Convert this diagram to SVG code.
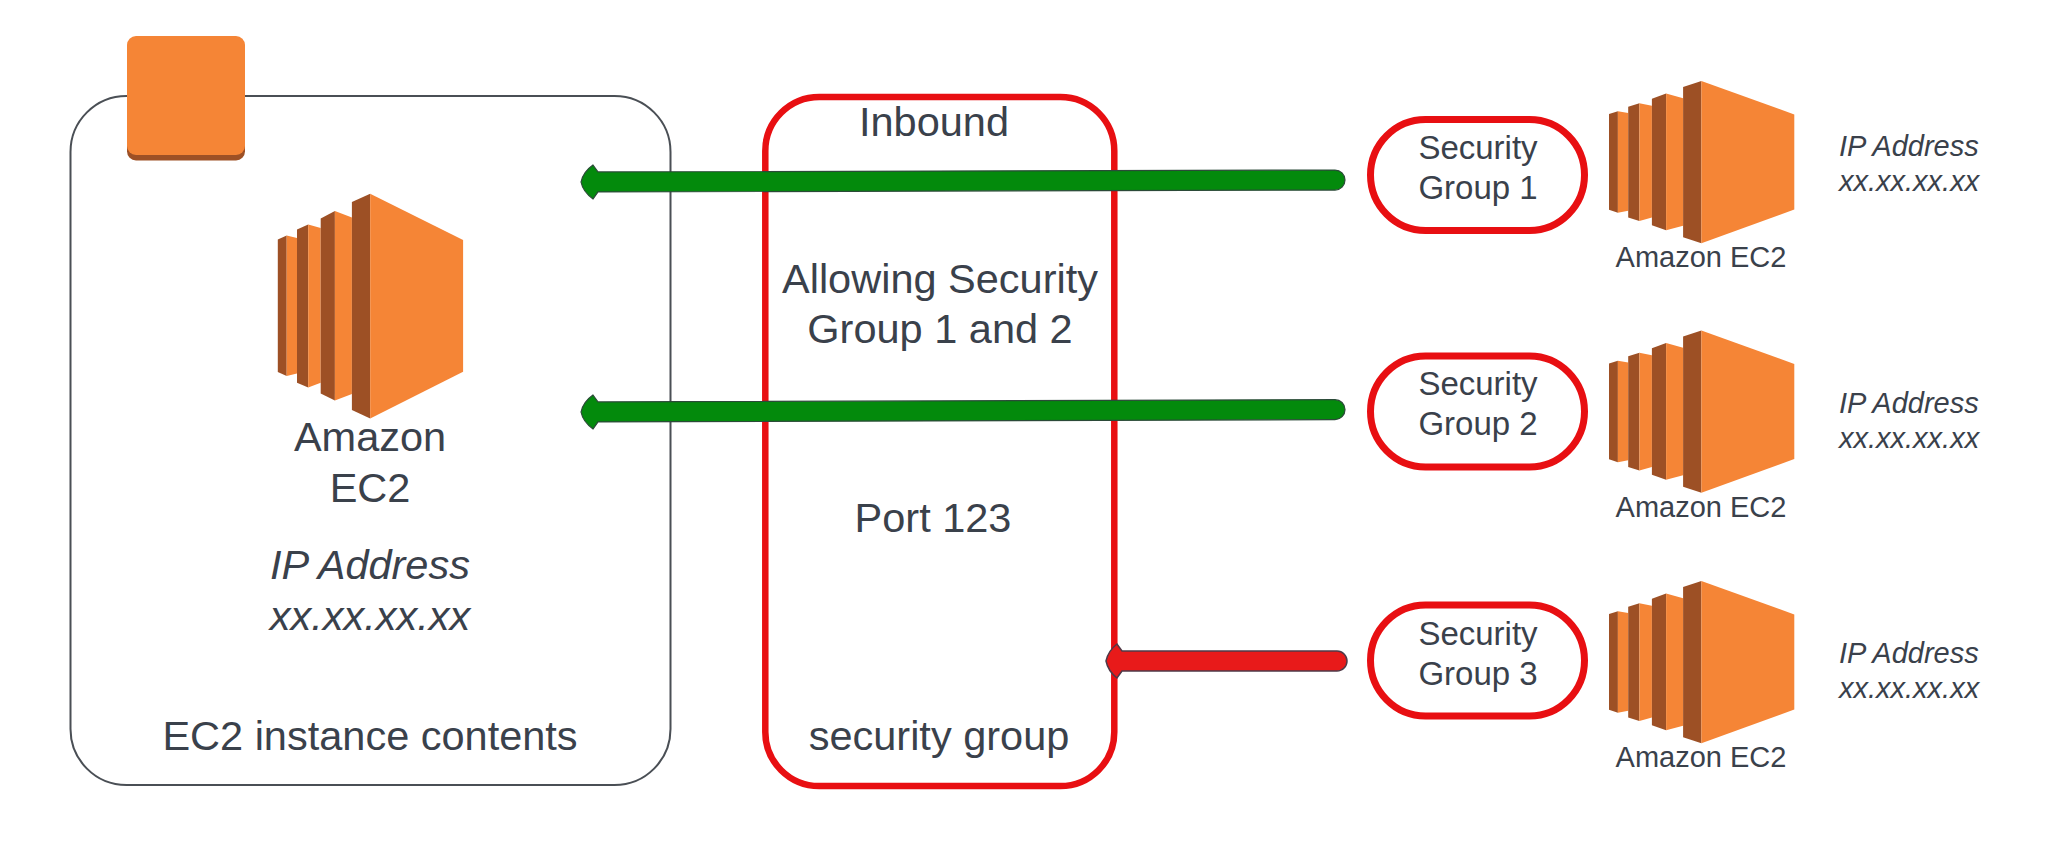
<svg xmlns="http://www.w3.org/2000/svg" xmlns:xlink="http://www.w3.org/1999/xlink" width="2048" height="861" viewBox="0 0 2048 861">
<style>
text{font-family:"Liberation Sans",Arial,sans-serif;fill:#3a414b;text-anchor:middle}
.l{font-size:41.5px}.s{font-size:33px}.c{font-size:29px}.i{font-style:italic}
.st{text-anchor:start}
.o{fill:#f58536}.d{fill:#9d5025}
.red{fill:#fff;stroke:#e80f12;stroke-width:7}
.green{fill:#038a0c;stroke:#2b4a38;stroke-width:1.2}
.stop{fill:#e81a1a;stroke:#4f3a48;stroke-width:1.5}
</style>
<defs>
<g id="ec2">
<polygon class="d" points="0,45.7 8.9,41.7 8.9,182.3 0,178.3"/>
<polygon class="o" points="8.9,41.7 19.2,44.3 19.2,179.7 8.9,182.3"/>
<polygon class="d" points="19.2,35.7 30.4,30.7 30.4,193.7 19.2,189"/>
<polygon class="o" points="30.4,30.7 42.9,34.3 42.9,189 30.4,193.7"/>
<polygon class="d" points="42.9,24.7 57.1,17.3 57.1,206.7 42.9,199.7"/>
<polygon class="o" points="57.1,17.3 74.1,23.7 74.1,200.3 57.1,206.7"/>
<polygon class="d" points="74.1,8.3 92.4,0 92.4,224.7 74.1,216.3"/>
<polygon class="o" points="92.4,0 185.3,46.3 185.3,178 92.4,224.7"/>
</g>
</defs>
<g id="ec2-instance">
<rect x="70.5" y="96" width="600" height="689" rx="56" ry="56" fill="#fff" stroke="#4a4f55" stroke-width="2"/>
<g id="instance-badge">
<rect class="d" x="127" y="40" width="118" height="120.5" rx="9"/>
<rect class="o" x="127" y="36" width="118" height="119" rx="9"/>
</g>
<use href="#ec2" xlink:href="#ec2" transform="translate(277.800 193.700)"/>
<text class="l" x="370" y="451">Amazon</text>
<text class="l" x="370" y="502">EC2</text>
<text class="l i" x="370" y="579">IP Address</text>
<text class="l i" x="370" y="630">xx.xx.xx.xx</text>
<text class="l" x="370" y="750">EC2 instance contents</text>
</g>
<g id="security-group">
<rect x="765.300" y="97" width="349" height="689" rx="54" ry="54" fill="#fff" stroke="#e80f12" stroke-width="6.500"/>
<text class="l" x="934" y="136">Inbound</text>
<text class="l" x="940" y="293">Allowing Security</text>
<text class="l" x="940" y="343">Group 1 and 2</text>
<text class="l" x="933" y="532">Port 123</text>
<text class="l" x="939" y="750">security group</text>
</g>
<g id="row-1">
<rect class="red" x="1370.500" y="119.500" width="214" height="111" rx="55" ry="55.500"/>
<text class="s" x="1478" y="159">Security</text>
<text class="s" x="1478" y="199">Group 1</text>
<use href="#ec2" xlink:href="#ec2" transform="translate(1609 81) scale(1 .7226)"/>
<text class="c" x="1701" y="267">Amazon EC2</text>
<text class="c i st" x="1839" y="156">IP Address</text>
<text class="c i st" x="1839" y="191">xx.xx.xx.xx</text>
</g>
<g id="row-2">
<rect class="red" x="1370.500" y="356" width="214" height="111" rx="55" ry="55.500"/>
<text class="s" x="1478" y="395">Security</text>
<text class="s" x="1478" y="435">Group 2</text>
<use href="#ec2" xlink:href="#ec2" transform="translate(1609 330.500) scale(1 .7226)"/>
<text class="c" x="1701" y="517">Amazon EC2</text>
<text class="c i st" x="1839" y="413">IP Address</text>
<text class="c i st" x="1839" y="448">xx.xx.xx.xx</text>
</g>
<g id="row-3">
<rect class="red" x="1370.500" y="605" width="214" height="111" rx="55" ry="55.500"/>
<text class="s" x="1478" y="645">Security</text>
<text class="s" x="1478" y="685">Group 3</text>
<use href="#ec2" xlink:href="#ec2" transform="translate(1609 581) scale(1 .7226)"/>
<text class="c" x="1701" y="767">Amazon EC2</text>
<text class="c i st" x="1839" y="663">IP Address</text>
<text class="c i st" x="1839" y="698">xx.xx.xx.xx</text>
</g>
<g id="connectors">
<path class="green" transform="translate(581 182) rotate(-.15)" d="M0,0 Q2,-10 12,-17 L17,-10 H754 A10,10 0 0 1 754,10 H17 L12,17 Q2,10 0,0Z"/>
<path class="green" transform="translate(581 412) rotate(-.18)" d="M0,0 Q2,-10 12,-17 L17,-10 H754 A10,10 0 0 1 754,10 H17 L12,17 Q2,10 0,0Z"/>
<path class="stop" transform="translate(1106 661)" d="M0,0 Q2,-10 11,-17 L16,-10 H231 A10,10 0 0 1 231,10 H16 L11,17 Q2,10 0,0Z"/>
</g>
</svg>
